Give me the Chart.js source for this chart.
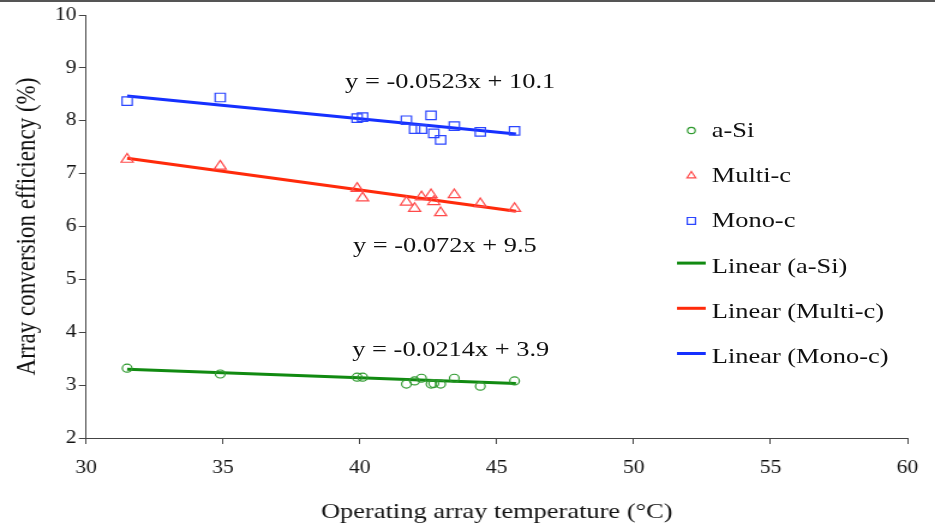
<!DOCTYPE html>
<html><head><meta charset="utf-8">
<script src="https://cdn.jsdelivr.net/npm/chart.js@4.4.1/dist/chart.umd.min.js"></script>
<style>
html,body{margin:0;padding:0;background:#fff;overflow:hidden;width:935px;height:525px;}
#topline{position:absolute;left:0;top:0;width:935px;height:2px;background:#555;z-index:5}
#wrap{position:absolute;left:0;top:0;width:779px;height:525px;transform:scaleX(1.2003);transform-origin:0 0;}
#c{position:absolute;left:0;top:0;}
.t{position:absolute;font-family:"Liberation Serif","Times New Roman",serif;color:#111;white-space:nowrap;line-height:1;transform:translateY(-50%);}
.eq{font-size:22px;}
.lg{font-size:22px;}
</style></head>
<body>
<div id="topline"></div>
<div id="wrap">
<canvas id="c" width="779" height="525"></canvas>
<div id="labels"></div>
</div>
<script>
// ---- data ----
const temperatures = [31.5, 34.9, 39.9, 40.1, 41.7, 42.0, 42.25, 42.6, 42.7, 42.95, 43.45, 44.4, 45.65];
const aSi   = [3.32, 3.21, 3.15, 3.15, 3.02, 3.08, 3.13, 3.02, 3.03, 3.02, 3.13, 2.98, 3.08];
const multiC = [7.27, 7.14, 6.72, 6.54, 6.46, 6.34, 6.56, 6.60, 6.47, 6.26, 6.60, 6.43, 6.34];
const monoC = [8.37, 8.44, 8.05, 8.07, 8.01, 7.84, 7.84, 8.10, 7.76, 7.64, 7.90, 7.79, 7.81];
const trendX = [31.5, 45.7];
const trendASi = [3.30, 3.03];
const trendMulti = [7.29, 6.29];
const trendMono = [8.47, 7.75];
const seriesNames = ["a-Si", "Multi-c", "Mono-c", "Linear (a-Si)", "Linear (Multi-c)", "Linear (Mono-c)"];
const equations = ["y = -0.0523x + 10.1", "y = -0.072x + 9.5", "y = -0.0214x + 3.9"];
const xTicks = [30, 35, 40, 45, 50, 55, 60];
const yTicks = [2, 3, 4, 5, 6, 7, 8, 9, 10];

const pts = (xs, ys) => xs.map((x, i) => ({x: x, y: ys[i]}));
const SERIF = "'Liberation Serif','Times New Roman',serif";

const colors = {
  aSiPt: '#2f9a2f', multiPt: '#ff4a4a', monoPt: '#2b46ff',
  aSiLn: '#118a11', multiLn: '#ff2a0a', monoLn: '#1530ff'
};

const styles = [
  {type:'pt', style:'circle', color: colors.aSiPt, r:3.2},
  {type:'pt', style:'triangle', color: colors.multiPt, r:4.2},
  {type:'pt', style:'rect', color: colors.monoPt, r:4.8},
  {type:'ln', color: colors.aSiLn},
  {type:'ln', color: colors.multiLn},
  {type:'ln', color: colors.monoLn}
];

const legendPlugin = {
  id: 'customLegend',
  afterDraw(chart) {
    const ctx = chart.ctx;
    const y0 = 130.5, dy = 45.2;
    styles.forEach((s, i) => {
      const y = y0 + i * dy;
      ctx.save();
      if (s.type === 'pt') {
        ctx.strokeStyle = s.color;
        ctx.fillStyle = 'rgba(0,0,0,0)';
        ctx.lineWidth = 1.2;
        Chart.helpers.drawPoint(ctx, {pointStyle: s.style, radius: s.r, rotation: 0, borderWidth: 1.2}, 576, y);
      } else {
        ctx.strokeStyle = s.color;
        ctx.lineWidth = 3;
        ctx.beginPath();
        ctx.moveTo(564, y - 3);
        ctx.lineTo(588, y - 3);
        ctx.stroke();
      }
      ctx.restore();
    });
  }
};

const ptDs = (label, ys, style, color, r) => ({
  type: 'scatter', label: label, data: pts(temperatures, ys),
  pointStyle: style, pointRadius: r, pointHoverRadius: r,
  pointBorderColor: color, pointBackgroundColor: 'rgba(0,0,0,0)', pointBorderWidth: 1.2,
  showLine: false, order: 1
});
const lnDs = (label, ys, color) => ({
  type: 'line', label: label, data: pts(trendX, ys),
  borderColor: color, borderWidth: 3, pointRadius: 0, fill: false, tension: 0, order: 2
});

new Chart(document.getElementById('c'), {
  data: {
    datasets: [
      ptDs(seriesNames[0], aSi, 'circle', colors.aSiPt, 4),
      ptDs(seriesNames[1], multiC, 'triangle', colors.multiPt, 5.8),
      ptDs(seriesNames[2], monoC, 'rect', colors.monoPt, 6),
      lnDs(seriesNames[3], trendASi, colors.aSiLn),
      lnDs(seriesNames[4], trendMulti, colors.multiLn),
      lnDs(seriesNames[5], trendMono, colors.monoLn)
    ]
  },
  options: {
    responsive: false,
    animation: false,
    devicePixelRatio: 1,
    layout: {padding: {left: 0, top: 15, right: 23, bottom: 0}},
    plugins: {legend: {display: false}, tooltip: {enabled: false}},
    scales: {
      x: {
        type: 'linear', min: 30, max: 60,
        afterBuildTicks: s => { s.ticks = xTicks.map(v => ({value: v})); },
        ticks: {font: {family: SERIF, size: 18}, color: '#111', padding: 13, maxRotation: 0},
        grid: {drawOnChartArea: false, drawTicks: true, tickLength: 6, color: '#444'},
        border: {display: true, color: '#444', width: 1},
        title: {display: true, text: 'Operating array temperature (°C)', color: '#111',
                font: {family: SERIF, size: 22}, padding: {top: 0, bottom: 0}},
        afterFit: s => { s.height = 87; }
      },
      y: {
        type: 'linear', min: 2, max: 10,
        afterBuildTicks: s => { s.ticks = yTicks.map(v => ({value: v})); },
        ticks: {font: {family: SERIF, size: 18}, color: '#111', padding: 2},
        grid: {drawOnChartArea: false, drawTicks: true, tickLength: 6, color: '#444'},
        border: {display: true, color: '#444', width: 1},
        title: {display: true, text: 'Array conversion efficiency (%)', color: '#111',
                font: {family: SERIF, size: 23}, padding: {top: 9, bottom: 0}},
        afterFit: s => { s.width = 71.7; }
      }
    }
  },
  plugins: [legendPlugin]
});

// HTML text overlays (equations and legend labels)
const labels = document.getElementById('labels');
function addText(txt, cls, x, y) {
  const d = document.createElement('div');
  d.className = 't ' + cls;
  d.textContent = txt;
  d.style.left = x + 'px';
  d.style.top = y + 'px';
  labels.appendChild(d);
}
const eqPos = [[287.5, 81], [294, 245], [293.5, 349]];
equations.forEach((e, i) => addText(e, 'eq', eqPos[i][0], eqPos[i][1]));
seriesNames.forEach((n, i) => addText(n, 'lg', 593, 130 + i * 45.2));
</script>
</body></html>
